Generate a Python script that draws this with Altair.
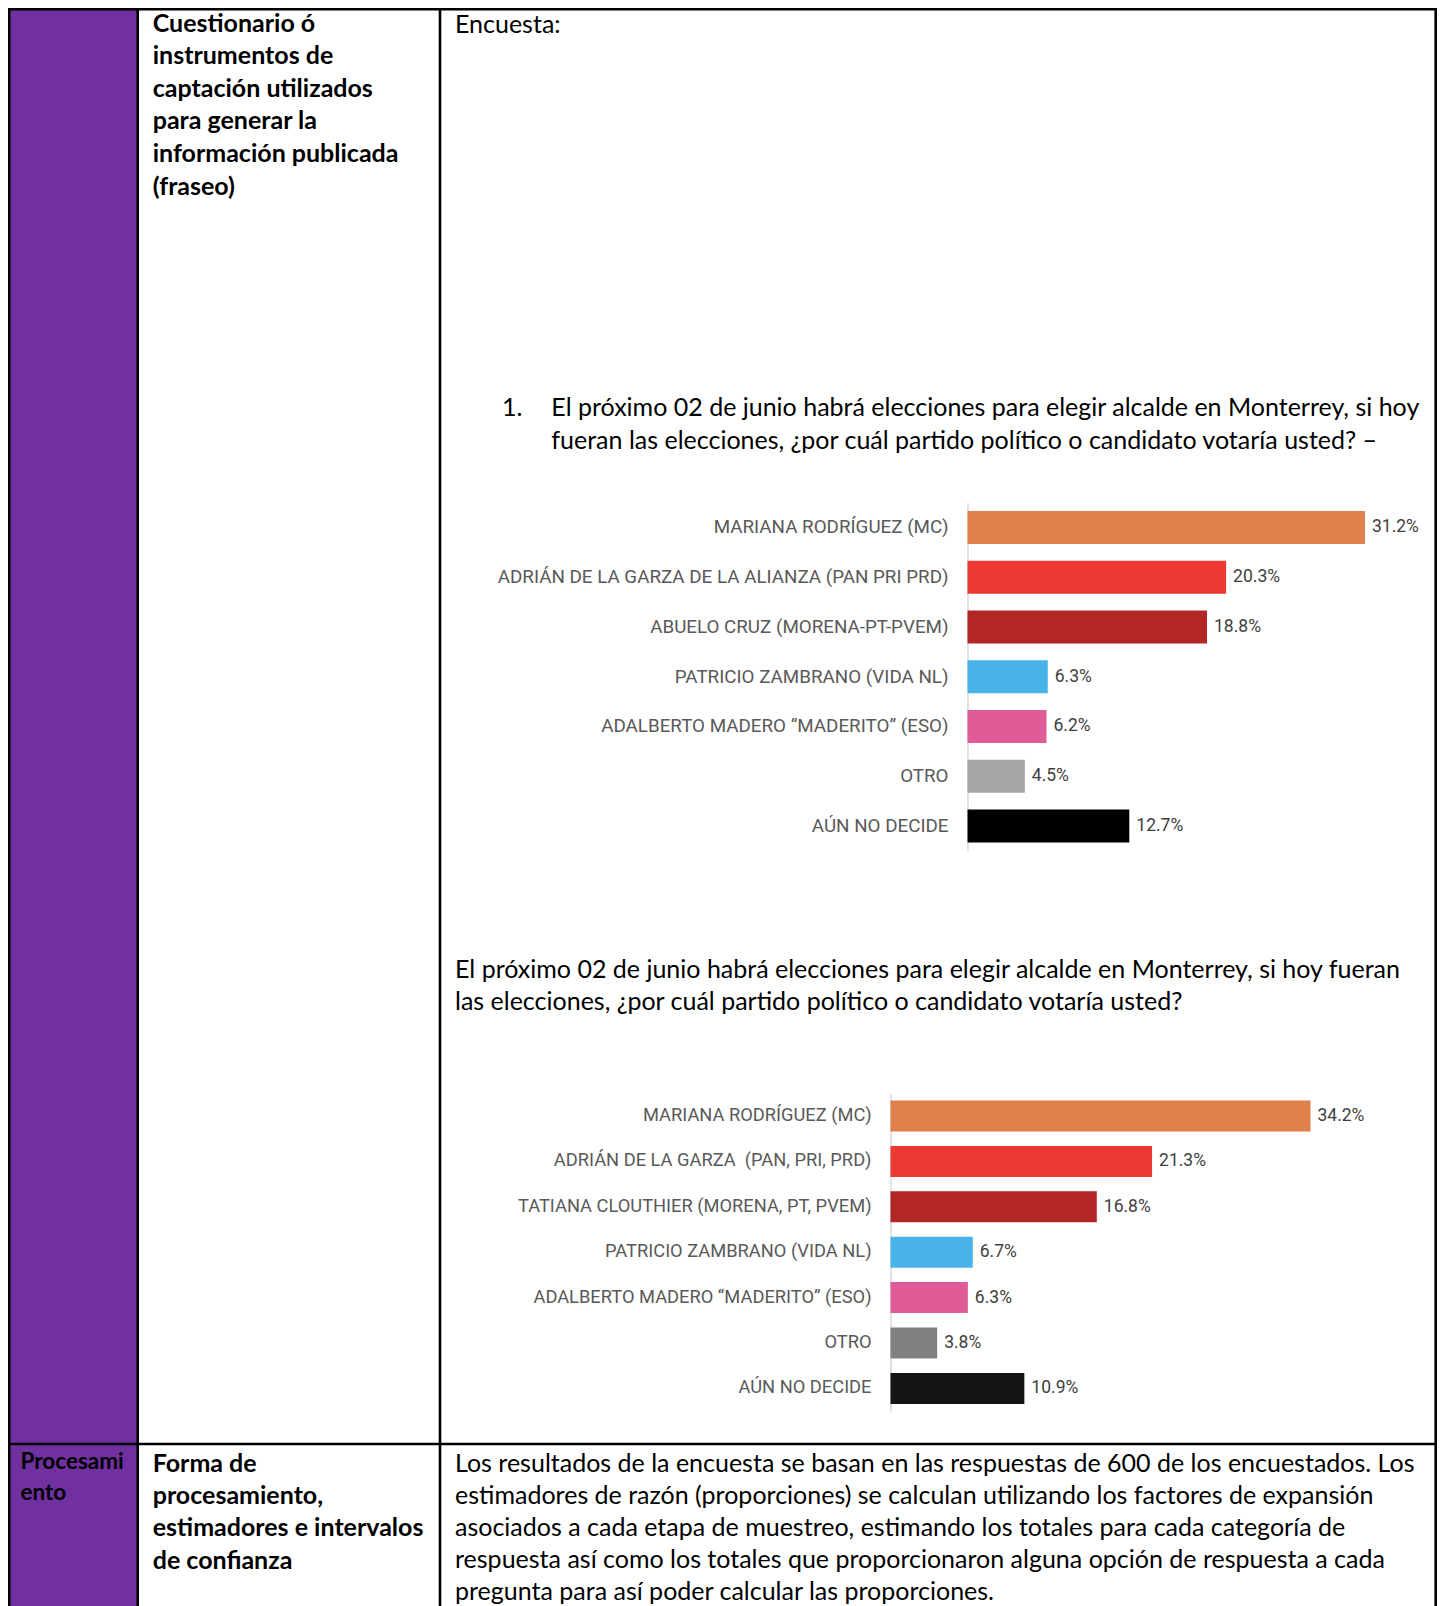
import altair as alt
import pandas as pd

# ---------------- data ----------------
cats1 = ["MARIANA RODRÍGUEZ (MC)", "ADRIÁN DE LA GARZA DE LA ALIANZA (PAN PRI PRD)",
         "ABUELO CRUZ (MORENA-PT-PVEM)", "PATRICIO ZAMBRANO (VIDA NL)",
         "ADALBERTO MADERO “MADERITO” (ESO)", "OTRO", "AÚN NO DECIDE"]
vals1 = [31.2, 20.3, 18.8, 6.3, 6.2, 4.5, 12.7]
cols1 = ["#E0804A", "#EE3833", "#B22626", "#47B3E8", "#E05C98", "#A6A6A6", "#000000"]

cats2 = ["MARIANA RODRÍGUEZ (MC)", "ADRIÁN DE LA GARZA \u00a0(PAN, PRI, PRD)",
         "TATIANA CLOUTHIER (MORENA, PT, PVEM)", "PATRICIO ZAMBRANO (VIDA NL)",
         "ADALBERTO MADERO “MADERITO” (ESO)", "OTRO", "AÚN NO DECIDE"]
vals2 = [34.2, 21.3, 16.8, 6.7, 6.3, 3.8, 10.9]
cols2 = ["#E0804A", "#EE3833", "#B22626", "#47B3E8", "#E05C98", "#808080", "#141414"]

col2_top = ["Cuestionario ó", "instrumentos de", "captación utilizados",
            "para generar la", "información publicada", "(fraseo)"]
col2_bottom = ["Forma de", "procesamiento,", "estimadores e intervalos", "de confianza"]
col1_bottom = ["Procesami", "ento"]
intro = ["Encuesta:"]
q1_num = ["1."]
q1_lines = ["El próximo 02 de junio habrá elecciones para elegir alcalde en Monterrey, si hoy",
            "fueran las elecciones, ¿por cuál partido político o candidato votaría usted? –"]
q2_lines = ["El próximo 02 de junio habrá elecciones para elegir alcalde en Monterrey, si hoy fueran",
            "las elecciones, ¿por cuál partido político o candidato votaría usted?"]
method_lines = [
    "Los resultados de la encuesta se basan en las respuestas de 600 de los encuestados. Los",
    "estimadores de razón (proporciones) se calculan utilizando los factores de expansión",
    "asociados a cada etapa de muestreo, estimando los totales para cada categoría de",
    "respuesta así como los totales que proporcionaron alguna opción de respuesta a cada",
    "pregunta para así poder calcular las proporciones.",
]

# ---------------- layout (page pixels) ----------------
W, H = 1429, 1598
OX, OY = 8, 8
decX = alt.Scale(domain=[OX, OX + W], range=[0, W], nice=False, zero=False)
decY = alt.Scale(domain=[OY, OY + H], range=[0, H], nice=False, zero=False)

def block(lines, x, y0, step, style):
    return [{"x": x, "y": y0 + i * step, "t": t, "s": style} for i, t in enumerate(lines)]

texts = (block(col2_top, 152.7, 23.5, 32.6, "b26")
         + block(col2_bottom, 152.7, 1463.5, 32.4, "b26")
         + block(col1_bottom, 20.5, 1462.4, 30.6, "b23")
         + block(intro, 455, 24.6, 32.8, "r")
         + block(q1_num, 502, 408, 32.8, "r")
         + block(q1_lines, 551.3, 408, 32.7, "r")
         + block(q2_lines, 455, 969.5, 32.8, "r")
         + block(method_lines, 455, 1463.5, 32.0, "r"))
tdf = pd.DataFrame(texts)

rules = pd.DataFrame([
    {"x": OX, "x2": OX + W, "y": 9.2, "y2": 9.2},
    {"x": OX, "x2": OX + W, "y": 1444, "y2": 1444},
    {"x": 9.2, "x2": 9.2, "y": OY, "y2": OY + H},
    {"x": 137.7, "x2": 137.7, "y": OY, "y2": OY + H},
    {"x": 440, "x2": 440, "y": OY, "y2": OY + H},
    {"x": 1435.7, "x2": 1435.7, "y": OY, "y2": OY + H},
])
purple = pd.DataFrame([{"x": 9.2, "x2": 137.7, "y": 9.2, "y2": OY + H}])

rect = alt.Chart(purple).mark_rect(color="#7030A0").encode(
    x=alt.X("x:Q", scale=decX, axis=None), x2="x2:Q",
    y=alt.Y("y:Q", scale=decY, axis=None), y2="y2:Q")
lines = alt.Chart(rules).mark_rule(color="#000000", strokeWidth=2.6).encode(
    x=alt.X("x:Q", scale=decX, axis=None), x2="x2:Q",
    y=alt.Y("y:Q", scale=decY, axis=None), y2="y2:Q")

def text_layer(style, size, weight):
    return alt.Chart(tdf).transform_filter(alt.datum.s == style).mark_text(
        align="left", baseline="middle", font="Lato", fontSize=size,
        fontWeight=weight, color="#000000").encode(
        x=alt.X("x:Q", scale=decX, axis=None),
        y=alt.Y("y:Q", scale=decY, axis=None),
        text="t:N")

t_b26 = text_layer("b26", 25, "bold")
t_b23 = text_layer("b23", 22.5, "bold")
t_r = text_layer("r", 25, "normal")

def bar_chart(cats, vals, cols, x0, ppp, y_top, step, bar_h, label_size):
    df = pd.DataFrame({"cat": cats, "v": vals, "col": cols})
    n = len(cats)
    pin = 1 - bar_h / step
    xs = alt.Scale(domain=[0, 40], range=[x0 - OX, x0 - OX + 40 * ppp], nice=False, zero=False)
    ys = alt.Scale(domain=cats, range=[y_top - OY, y_top - OY + n * step],
                   paddingInner=pin, paddingOuter=pin / 2)
    bars = alt.Chart(df).mark_bar().encode(
        x=alt.X("v:Q", scale=xs, axis=None),
        y=alt.Y("cat:N", scale=ys, sort=cats,
                axis=alt.Axis(orient="left", offset=-(x0 - OX), title=None, ticks=False,
                              tickSize=0, labelPadding=19.5, domainColor="#d9d9d9",
                              domainWidth=1.5, labelFont="Roboto", labelFontSize=label_size,
                              labelColor="#595959", labelLimit=900, grid=False,
                              labelAlign="right", labelBaseline="middle")),
        color=alt.Color("col:N", scale=None))
    vtext = alt.Chart(df).transform_calculate(
        lab="format(datum.v, '.1f') + '%'").mark_text(
        align="left", baseline="middle", dx=7, font="Roboto", fontSize=17.5,
        color="#404040").encode(
        x=alt.X("v:Q", scale=xs, axis=None),
        y=alt.Y("cat:N", scale=ys, sort=cats, axis=None),
        text="lab:N")
    return [bars, vtext]

c1 = bar_chart(cats1, vals1, cols1, 967.5, 12.74, 502.6, 49.75, 33, 18.8)
c2 = bar_chart(cats2, vals2, cols2, 890.5, 12.28, 1093.3, 45.4, 31, 18.3)

chart = alt.layer(rect, lines, t_b26, t_b23, t_r, *c1, *c2).resolve_scale(
    x="independent", y="independent").properties(
    width=W, height=H, autosize=alt.AutoSizeParams(type="none"), padding=0
).configure_view(stroke=None)

chart.save("out.html", embed_options={"renderer": "svg", "actions": False})
